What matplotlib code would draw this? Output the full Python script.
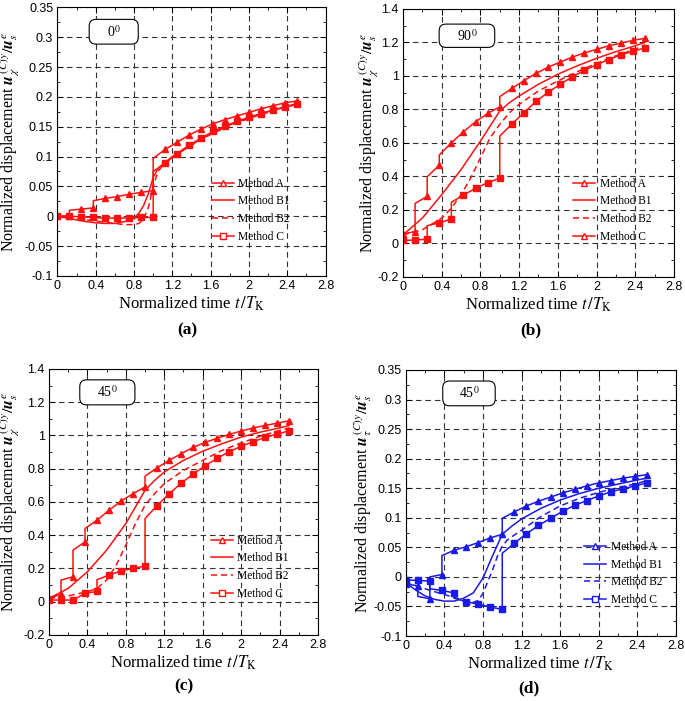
import matplotlib
matplotlib.use("Agg")
import matplotlib.pyplot as plt
from matplotlib.lines import Line2D
from matplotlib.patches import FancyBboxPatch
from matplotlib.ticker import MultipleLocator, FuncFormatter

plt.rcParams["font.family"] = ["Liberation Serif", "DejaVu Serif"]
plt.rcParams["mathtext.fontset"] = "stix"
plt.rcParams["axes.unicode_minus"] = False

# time nodes t/T_K where methods A and C are sampled
T_NODES = [0.0, 0.125, 0.25, 0.375, 0.5, 0.625, 0.75, 0.875, 1.0, 1.125, 1.25,
           1.375, 1.5, 1.625, 1.75, 1.875, 2.0, 2.125, 2.25, 2.375, 2.5]

# ---- (a) 0 deg ----
A_a_pre = [0.000, 0.001, 0.012, 0.014, 0.030, 0.033, 0.037, 0.040, 0.043, 0.112, 0.124,
           0.136, 0.146, 0.155, 0.162, 0.168, 0.174, 0.180, 0.185, 0.190, 0.193]
A_a_post = [0.000, 0.010, 0.012, 0.026, 0.030, 0.033, 0.037, 0.040, 0.097, 0.112, 0.124,
            0.136, 0.146, 0.155, 0.162, 0.168, 0.174, 0.180, 0.185, 0.190, 0.193]
C_a_pre = [0.000, 0.000, -0.001, -0.002, -0.003, -0.003, -0.003, -0.002, -0.002, 0.089, 0.105,
           0.119, 0.131, 0.142, 0.151, 0.159, 0.166, 0.172, 0.178, 0.183, 0.188]
C_a_post = [0.000, 0.000, -0.001, -0.002, -0.003, -0.003, -0.003, -0.002, 0.075, 0.089, 0.105,
            0.119, 0.131, 0.142, 0.151, 0.159, 0.166, 0.172, 0.178, 0.183, 0.188]
B1_a_t = [0, 0.1, 0.2, 0.3, 0.4, 0.5, 0.6, 0.7, 0.8, 0.85, 0.9, 0.95, 1.0, 1.05, 1.1,
          1.2, 1.4, 1.6, 1.8, 2.0, 2.2, 2.4, 2.5]
B1_a_y = [0, -0.003, -0.006, -0.009, -0.011, -0.012, -0.012, -0.009, -0.003, 0.005, 0.018,
          0.038, 0.065, 0.080, 0.087, 0.100, 0.120, 0.138, 0.153, 0.165, 0.175, 0.184, 0.189]
B2_a_t = [0, 0.1, 0.2, 0.3, 0.4, 0.5, 0.6, 0.7, 0.8, 0.85, 0.9, 0.95, 1.0, 1.05, 1.1,
          1.2, 1.4, 1.6, 1.8, 2.0, 2.2, 2.4, 2.5]
B2_a_y = [0, -0.002, -0.004, -0.006, -0.008, -0.010, -0.012, -0.014, -0.014, -0.012, -0.005,
          0.015, 0.050, 0.075, 0.085, 0.099, 0.119, 0.137, 0.152, 0.164, 0.174, 0.183, 0.188]

# ---- (b) 90 deg ----
A_b_pre = [0.055, 0.070, 0.280, 0.467, 0.600, 0.666, 0.726, 0.776, 0.815, 0.925, 0.972,
           1.015, 1.052, 1.083, 1.112, 1.138, 1.158, 1.180, 1.196, 1.212, 1.225]
A_b_post = [0.055, 0.238, 0.397, 0.527, 0.600, 0.666, 0.726, 0.776, 0.876, 0.925, 0.972,
            1.015, 1.052, 1.083, 1.112, 1.138, 1.158, 1.180, 1.196, 1.212, 1.225]
C_b_pre = [0.018, 0.018, 0.025, 0.122, 0.145, 0.288, 0.328, 0.362, 0.388, 0.712, 0.780,
           0.848, 0.902, 0.950, 0.995, 1.033, 1.066, 1.098, 1.125, 1.147, 1.167]
C_b_post = [0.018, 0.018, 0.105, 0.122, 0.245, 0.288, 0.328, 0.362, 0.640, 0.712, 0.780,
            0.848, 0.902, 0.950, 0.995, 1.033, 1.066, 1.098, 1.125, 1.147, 1.167]
B1_b_t = [0, 0.2, 0.4, 0.6, 0.8, 0.9, 1.0, 1.1, 1.2, 1.4, 1.6, 1.8, 2.0, 2.2, 2.4, 2.5]
B1_b_y = [0.05, 0.15, 0.29, 0.44, 0.61, 0.70, 0.79, 0.84, 0.88, 0.95, 1.01, 1.06, 1.105,
          1.145, 1.18, 1.20]
B2_b_t = [0, 0.2, 0.4, 0.5, 0.6, 0.7, 0.8, 0.9, 1.0, 1.1, 1.2, 1.4, 1.6, 1.8, 2.0, 2.2, 2.4, 2.5]
B2_b_y = [0.05, 0.08, 0.15, 0.21, 0.29, 0.39, 0.51, 0.63, 0.71, 0.78, 0.83, 0.91, 0.97,
          1.025, 1.075, 1.12, 1.16, 1.185]

# ---- (c) 45 deg, u_chi ----
A_c_pre = [0.020, 0.045, 0.150, 0.360, 0.490, 0.550, 0.605, 0.650, 0.690, 0.805, 0.850,
           0.890, 0.928, 0.958, 0.983, 1.006, 1.026, 1.045, 1.060, 1.074, 1.088]
A_c_post = [0.020, 0.130, 0.310, 0.440, 0.490, 0.550, 0.605, 0.650, 0.755, 0.805, 0.850,
            0.890, 0.928, 0.958, 0.983, 1.006, 1.026, 1.045, 1.060, 1.074, 1.088]
C_c_pre = [0.010, 0.010, 0.010, 0.050, 0.062, 0.160, 0.185, 0.200, 0.215, 0.578, 0.648,
           0.712, 0.768, 0.818, 0.862, 0.902, 0.935, 0.962, 0.988, 1.008, 1.028]
C_c_post = [0.010, 0.010, 0.010, 0.050, 0.132, 0.160, 0.185, 0.200, 0.500, 0.578, 0.648,
            0.712, 0.768, 0.818, 0.862, 0.902, 0.935, 0.962, 0.988, 1.008, 1.028]
B1_c_t = [0, 0.2, 0.4, 0.6, 0.8, 0.9, 1.0, 1.1, 1.2, 1.4, 1.6, 1.8, 2.0, 2.2, 2.4, 2.5]
B1_c_y = [0.02, 0.08, 0.18, 0.31, 0.47, 0.57, 0.67, 0.73, 0.78, 0.85, 0.905, 0.95, 0.99,
          1.02, 1.045, 1.06]
B2_c_t = [0, 0.2, 0.4, 0.5, 0.6, 0.7, 0.8, 0.9, 1.0, 1.1, 1.2, 1.4, 1.6, 1.8, 2.0, 2.2, 2.4, 2.5]
B2_c_y = [0.02, 0.035, 0.06, 0.08, 0.13, 0.22, 0.34, 0.47, 0.58, 0.65, 0.71, 0.79, 0.85,
          0.91, 0.955, 0.995, 1.03, 1.045]

# ---- (d) 45 deg, u_tau ----
A_d_pre = [-0.012, -0.015, -0.037, 0.004, 0.045, 0.051, 0.058, 0.066, 0.072, 0.110, 0.120,
           0.128, 0.135, 0.142, 0.148, 0.154, 0.159, 0.163, 0.167, 0.170, 0.173]
A_d_post = [-0.012, -0.033, 0.000, 0.036, 0.045, 0.051, 0.058, 0.066, 0.099, 0.110, 0.120,
            0.128, 0.135, 0.142, 0.148, 0.154, 0.159, 0.163, 0.167, 0.170, 0.173]
C_d_pre = [-0.005, -0.006, -0.007, -0.023, -0.027, -0.042, -0.046, -0.051, -0.055, 0.057, 0.073,
           0.087, 0.099, 0.111, 0.121, 0.129, 0.137, 0.144, 0.149, 0.154, 0.159]
C_d_post = [-0.005, -0.006, -0.020, -0.023, -0.036, -0.042, -0.046, -0.051, 0.040, 0.057, 0.073,
            0.087, 0.099, 0.111, 0.121, 0.129, 0.137, 0.144, 0.149, 0.154, 0.159]
B1_d_t = [0, 0.1, 0.2, 0.3, 0.4, 0.5, 0.6, 0.7, 0.8, 0.9, 1.0, 1.1, 1.2, 1.4, 1.6, 1.8,
          2.0, 2.2, 2.4, 2.5]
B1_d_y = [-0.010, -0.022, -0.032, -0.038, -0.041, -0.041, -0.036, -0.027, -0.002, 0.036,
          0.072, 0.086, 0.098, 0.116, 0.130, 0.141, 0.150, 0.157, 0.164, 0.167]
B2_d_t = [0, 0.2, 0.4, 0.6, 0.7, 0.75, 0.8, 0.85, 0.9, 0.95, 1.0, 1.05, 1.1, 1.2, 1.4,
          1.6, 1.8, 2.0, 2.2, 2.4, 2.5]
B2_d_y = [-0.010, -0.020, -0.030, -0.039, -0.043, -0.040, -0.028, -0.008, 0.012, 0.035,
          0.052, 0.062, 0.068, 0.079, 0.102, 0.120, 0.133, 0.143, 0.151, 0.158, 0.163]

LABELS = ["Method A", "Method B1", "Method B2", "Method C"]
RED = "#ff1010"
BLUE = "#1a1ae6"

panels = [
    dict(pos=[0.0838, 0.6063, 0.3915, 0.3833], ylim=(-0.1, 0.35), ystep=0.05,
         data=(A_a_pre, A_a_post, C_a_pre, C_a_post, B1_a_t, B1_a_y, B2_a_t, B2_a_y),
         color=RED, angle="0", sub=r"\chi", box=(0.21, 0.909, 0.183, 0.092),
         leg=(0.575, 0.366), ylab_x=-0.131, tag="(a)", tag_xy=(0.273, 0.529), c_leg="s"),
    dict(pos=[0.5883, 0.6053, 0.3956, 0.3819], ylim=(-0.2, 1.4), ystep=0.2,
         data=(A_b_pre, A_b_post, C_b_pre, C_b_post, B1_b_t, B1_b_y, B2_b_t, B2_b_y),
         color=RED, angle="90", sub=r"\chi", box=(0.236, 0.90, 0.205, 0.087),
         leg=(0.628, 0.370), ylab_x=-0.082, tag="(b)", tag_xy=(0.775, 0.529), c_leg="^"),
    dict(pos=[0.0715, 0.0942, 0.3927, 0.3795], ylim=(-0.2, 1.4), ystep=0.2,
         data=(A_c_pre, A_c_post, C_c_pre, C_c_post, B1_c_t, B1_c_y, B2_c_t, B2_c_y),
         color=RED, angle="45", sub=r"\chi", box=(0.217, 0.912, 0.205, 0.094),
         leg=(0.601, 0.377), ylab_x=-0.099, tag="(c)", tag_xy=(0.268, 0.021), c_leg="s"),
    dict(pos=[0.5923, 0.0927, 0.3946, 0.3795], ylim=(-0.1, 0.35), ystep=0.05,
         data=(A_d_pre, A_d_post, C_d_pre, C_d_post, B1_d_t, B1_d_y, B2_d_t, B2_d_y),
         color=BLUE, angle="45", sub=r"\tau", box=(0.234, 0.912, 0.194, 0.093),
         leg=(0.661, 0.358), ylab_x=-0.117, tag="(d)", tag_xy=(0.772, 0.018), c_leg="s"),
]


def step_xy(pre, post):
    xs, ys = [], []
    for t, a, b in zip(T_NODES, pre, post):
        xs += [t, t]
        ys += [a, b]
    return xs, ys


fmt = FuncFormatter(lambda v, p: "%g" % round(v, 4))

fig = plt.figure(figsize=(6.85, 7.01), dpi=100)

for p in panels:
    ax = fig.add_axes(p["pos"])
    a_pre, a_post, c_pre, c_post, b1_t, b1_y, b2_t, b2_y = p["data"]
    col = p["color"]

    xs, ys = step_xy(a_pre, a_post)
    ax.plot(xs, ys, color=col, lw=1.1, marker="^", ms=4.5, markevery=list(range(0, len(xs), 2)))
    ax.plot(b1_t, b1_y, color=col, lw=1.1)
    ax.plot(b2_t, b2_y, color=col, lw=1.1, dashes=(4, 2.5))
    xs, ys = step_xy(c_pre, c_post)
    ax.plot(xs, ys, color=col, lw=1.1, marker="s", ms=3.8, markevery=list(range(0, len(xs), 2)))

    ax.set_xlim(0, 2.8)
    ax.set_ylim(*p["ylim"])
    ax.xaxis.set_major_locator(MultipleLocator(0.4))
    ax.xaxis.set_minor_locator(MultipleLocator(0.2))
    ax.yaxis.set_major_locator(MultipleLocator(p["ystep"]))
    ax.yaxis.set_minor_locator(MultipleLocator(p["ystep"] / 2))
    ax.xaxis.set_major_formatter(fmt)
    ax.yaxis.set_major_formatter(fmt)
    ax.tick_params(which="both", direction="in", top=True, right=True,
                   labelsize=9, labelfontfamily="Liberation Sans", pad=3)
    ax.tick_params(which="major", length=4, width=0.7)
    ax.tick_params(which="minor", length=2, width=0.6)
    ax.grid(True, which="major", color="#333333", lw=0.8, dashes=(5, 3.5))
    for s in ax.spines.values():
        s.set_linewidth(0.8)

    ax.set_xlabel(r"Normalized time $t\,/T_{\mathrm{K}}$", fontsize=12, labelpad=2)
    ax.set_ylabel(r"Normalized displacement $\mathbfit{u}_{%s}^{\,(C)y}/\mathbfit{u}_{s}^{\,e}$" % p["sub"],
                  fontsize=11.5)
    ax.yaxis.set_label_coords(p["ylab_x"], 0.5)

    bx, by, bw, bh = p["box"]
    ax.add_patch(FancyBboxPatch((bx - bw / 2, by - bh / 2), bw, bh,
                                boxstyle="round,pad=0,rounding_size=0.025",
                                transform=ax.transAxes, fc="white", ec="black", lw=0.8, zorder=5))
    ax.text(bx, by, p["angle"] + r"$^{0}$", transform=ax.transAxes, ha="center", va="center",
            fontsize=10, zorder=6)

    handles = [
        Line2D([], [], color=col, lw=1.1, marker="^", ms=5, mfc="white"),
        Line2D([], [], color=col, lw=1.1),
        Line2D([], [], color=col, lw=1.1, dashes=(4, 2.5)),
        Line2D([], [], color=col, lw=1.1, marker=p["c_leg"], ms=5, mfc="white"),
    ]
    ax.legend(handles, LABELS, loc="upper left", bbox_to_anchor=p["leg"], frameon=False,
              fontsize=8.3, borderpad=0, borderaxespad=0, handlelength=1.9,
              handletextpad=0.4, labelspacing=0.5)

    fig.text(p["tag_xy"][0], p["tag_xy"][1], p["tag"], ha="center", va="center",
             fontsize=12.5, fontweight="bold")

fig.savefig("out.png", dpi=100)
